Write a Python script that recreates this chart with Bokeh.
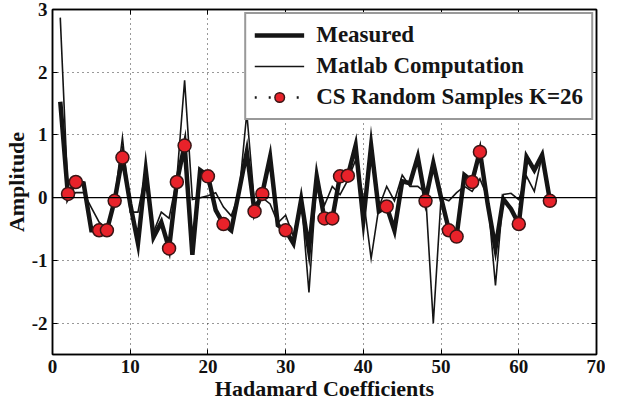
from bokeh.plotting import figure
from bokeh.models import (LinearAxis, FixedTicker, Span, Legend, LegendItem,
                          ColumnDataSource, Range1d)
from bokeh.embed import file_html
from bokeh.resources import INLINE

coef = list(range(1, 65))
measured = [1.53, 0.02, 0.26, 0.23, -0.52, -0.52, -0.52, -0.04, 0.65, -0.10,
            -0.73, 0.44, -0.63, -0.39, -0.81, 0.25, 0.84, -0.91, 0.44, 0.35,
            -0.20, -0.42, -0.52, 0.10, 0.73, -0.23, 0.07, 0.65, -0.44, -0.52,
            -0.73, -0.03, -0.83, 0.34, -0.34, -0.34, 0.35, 0.35, 0.83, -0.36,
            0.83, -0.22, -0.14, -0.52, 0.26, 0.23, 0.65, -0.04, 0.55, 0.00,
            -0.51, -0.61, 0.36, 0.26, 0.74, -0.10, -0.81, -0.02, -0.18, -0.42,
            0.65, 0.44, 0.68, -0.04]
matlab = [2.87, 0.03, 0.08, 0.08, -0.16, -0.39, -0.50, -0.03, 0.96, -0.23,
          -0.23, 0.42, -0.55, -0.23, -0.33, 0.30, 1.87, -0.03, 0.00, 0.03,
          0.08, -0.15, -0.29, 0.05, 1.35, -0.10, 0.00, -0.10, -0.40, -0.28,
          -0.62, 0.00, -1.51, 0.30, -0.12, 0.18, 0.05, 0.28, 0.60, 0.00,
          -0.97, -0.15, 0.18, -0.05, 0.36, 0.18, 0.18, 0.08, -2.00, 0.00,
          -0.05, 0.08, 0.18, 0.10, 0.30, 0.00, -1.40, 0.05, 0.07, -0.03,
          0.34, 0.10, 0.68, -0.04]
cs_x = [2, 3, 6, 7, 8, 9, 15, 16, 17, 20, 22, 26, 27, 30, 35, 36, 37, 38,
        43, 48, 51, 52, 54, 55, 60, 64]
cs_y = [0.06, 0.25, -0.52, -0.52, -0.05, 0.64, -0.81, 0.25, 0.83, 0.34, -0.42,
        -0.22, 0.06, -0.52, -0.33, -0.33, 0.34, 0.35, -0.14, -0.05, -0.52,
        -0.62, 0.25, 0.73, -0.42, -0.05]
x_ticks = [0, 10, 20, 30, 40, 50, 60, 70]
y_ticks = [-2, -1, 0, 1, 2, 3]

FONT = "Liberation Serif"

p = figure(width=605, height=403, x_range=Range1d(0, 70), y_range=Range1d(-2.5, 3),
           output_backend="svg", toolbar_location=None,
           min_border_left=2, min_border_right=9, min_border_top=9, min_border_bottom=2)
p.background_fill_color = "white"
p.border_fill_color = "white"
p.outline_line_color = "black"
p.outline_line_width = 1.5

for ax in (p.xaxis[0], p.yaxis[0]):
    ax.major_label_text_font = FONT
    ax.major_label_text_font_style = "bold"
    ax.major_label_text_font_size = "19px"
    ax.major_label_text_color = "#111111"
    ax.axis_label_text_font = FONT
    ax.axis_label_text_font_style = "bold"
    ax.axis_label_text_font_size = "22px"
    ax.axis_label_text_color = "#111111"
    ax.major_tick_in = 5
    ax.major_tick_out = 0
    ax.minor_tick_line_color = None
    ax.axis_line_color = "black"
    ax.axis_line_width = 1.5

p.xaxis[0].ticker = FixedTicker(ticks=x_ticks)
p.yaxis[0].ticker = FixedTicker(ticks=y_ticks)
p.xaxis[0].axis_label = "Hadamard Coefficients"
p.yaxis[0].axis_label = "Amplitude"
p.xaxis[0].major_label_standoff = 5
p.xaxis[0].axis_label_standoff = 0
p.yaxis[0].major_label_standoff = 5
p.yaxis[0].axis_label_standoff = 0
p.yaxis[0].major_label_overrides = {t: str(t) for t in y_ticks}

top_ax = LinearAxis(ticker=FixedTicker(ticks=x_ticks), major_label_text_font_size="0px",
                    major_label_text_color=None,
                    major_label_standoff=0, major_tick_in=5, major_tick_out=0,
                    minor_tick_line_color=None, axis_line_color="black", axis_line_width=1.5)
right_ax = LinearAxis(ticker=FixedTicker(ticks=y_ticks), major_label_text_font_size="0px",
                      major_label_text_color=None,
                      major_label_standoff=0, major_tick_in=5, major_tick_out=0,
                      minor_tick_line_color=None, axis_line_color="black", axis_line_width=1.5)
p.add_layout(top_ax, "above")
p.add_layout(right_ax, "right")

for g in (p.xgrid[0], p.ygrid[0]):
    g.grid_line_color = "#333333"
    g.grid_line_dash = "1 4"
    g.grid_line_width = 1
p.xgrid[0].ticker = FixedTicker(ticks=x_ticks)
p.ygrid[0].ticker = FixedTicker(ticks=y_ticks)

p.add_layout(Span(location=0, dimension="width", line_color="black", line_width=1.3))

src = ColumnDataSource(dict(x=coef, m=measured, c=matlab))
r_meas = p.line("x", "m", source=src, line_color="#151515", line_width=4.5, line_join="miter")
r_mat = p.line("x", "c", source=src, line_color="#151515", line_width=1.6, line_join="miter")
cs_src = ColumnDataSource(dict(x=cs_x, y=cs_y))
r_dot = p.line(x=[float("nan")], y=[float("nan")], line_color="#151515",
               line_width=2.5, line_dash="2 12")
r_cs = p.scatter("x", "y", source=cs_src, size=13, fill_color="#e8222a",
                 line_color="#3a1515", line_width=1.5)

legend = Legend(items=[
    LegendItem(label="Measured", renderers=[r_meas]),
    LegendItem(label="Matlab Computation", renderers=[r_mat]),
    LegendItem(label="CS Random Samples K=26", renderers=[r_dot, r_cs]),
], location="top_right")
legend.label_text_font = FONT
legend.label_text_font_style = "bold"
legend.label_text_font_size = "23px"
legend.label_text_color = "#151515"
legend.glyph_width = 50
legend.glyph_height = 24
legend.label_height = 24
legend.label_standoff = 12
legend.spacing = 5
legend.padding = 8
legend.margin = 3
legend.border_line_color = "#333333"
legend.border_line_width = 2
legend.background_fill_color = "white"
legend.background_fill_alpha = 1
p.add_layout(legend)

open("out.html", "w").write(file_html(p, INLINE))
